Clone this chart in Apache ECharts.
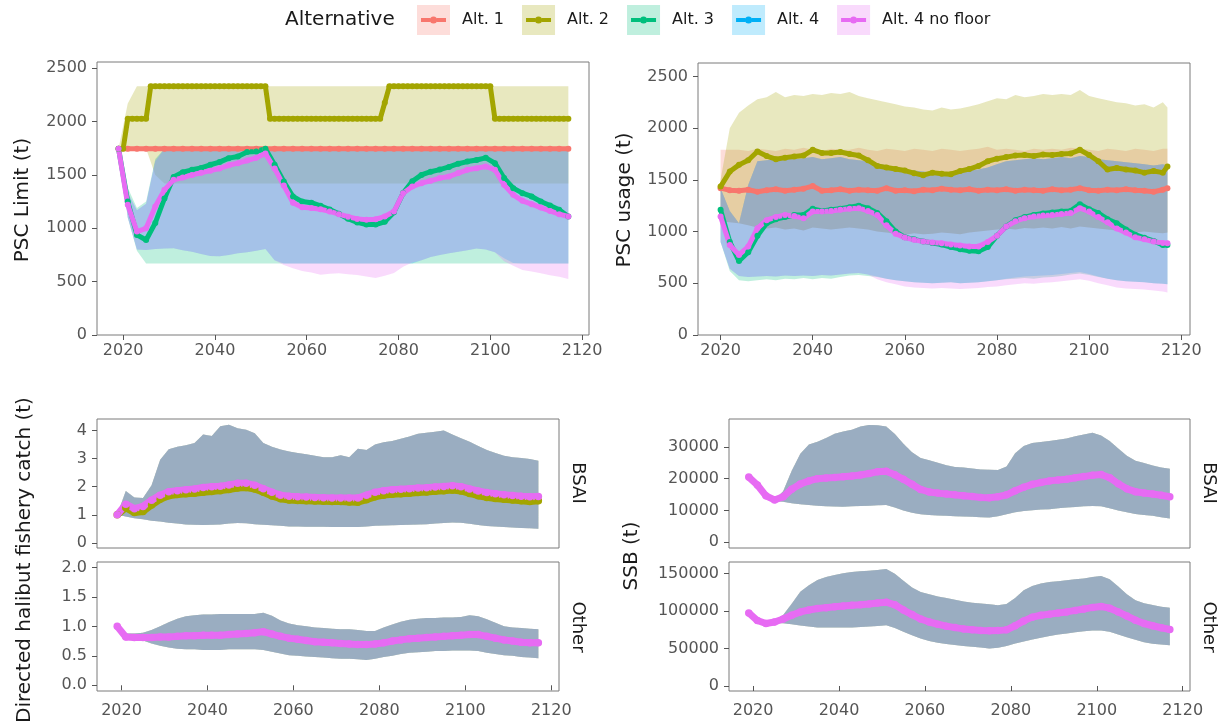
<!DOCTYPE html>
<html lang="en">
  <head>
    <meta charset="UTF-8" />
    <title>PSC alternatives</title>
    <script src="https://cdn.jsdelivr.net/npm/echarts@6/dist/echarts.min.js"></script>
    <style>
      html, body { margin: 0; padding: 0; background: #fff; }
      #main { width: 1220px; height: 727px; }
    </style>
  </head>
  <body>
    <div id="main"></div>
    <script type="text/javascript">
      // alternatives and colours (ggplot hue palette)
      const alts = ["Alt. 1", "Alt. 2", "Alt. 3", "Alt. 4", "Alt. 4 no floor"];
      const colors = ["#F8766D", "#A3A500", "#00BF7D", "#00B0F6", "#E76BF3"];
      const xTicks = [2020, 2040, 2060, 2080, 2100, 2120];
      const yTicksPsc = [0, 500, 1000, 1500, 2000, 2500];
      const yTicksCatchBsai = [0, 1, 2, 3, 4];
      const yTicksCatchOther = [0, 0.5, 1, 1.5, 2];
      const yTicksSsbBsai = [0, 10000, 20000, 30000];
      const yTicksSsbOther = [0, 50000, 100000, 150000];

      // x values
      const yearsOdd = [];
      for (let y = 2019; y <= 2117; y += 2) yearsOdd.push(y);
      const yearsAll = [];
      for (let y = 2019; y <= 2117; y++) yearsAll.push(y);
      const yearsUsage = [];
      for (let y = 2020; y <= 2116; y += 2) yearsUsage.push(y);
      yearsUsage.push(2117);

      // ---- PSC limit (odd years, Alt. 2 yearly) ----
      const limAlt1 = [
        1745, 1745, 1745, 1745, 1745, 1745, 1745, 1745, 1745, 1745,
        1745, 1745, 1745, 1745, 1745, 1745, 1745, 1745, 1745, 1745,
        1745, 1745, 1745, 1745, 1745, 1745, 1745, 1745, 1745, 1745,
        1745, 1745, 1745, 1745, 1745, 1745, 1745, 1745, 1745, 1745,
        1745, 1745, 1745, 1745, 1745, 1745, 1745, 1745, 1745, 1745
      ];
      const limAlt2 = [
        1745, 1745, 2026, 2026, 2026, 2026, 2026, 2330, 2330, 2330,
        2330, 2330, 2330, 2330, 2330, 2330, 2330, 2330, 2330, 2330,
        2330, 2330, 2330, 2330, 2330, 2330, 2330, 2330, 2330, 2330,
        2330, 2330, 2330, 2026, 2026, 2026, 2026, 2026, 2026, 2026,
        2026, 2026, 2026, 2026, 2026, 2026, 2026, 2026, 2026, 2026,
        2026, 2026, 2026, 2026, 2026, 2026, 2026, 2026, 2176, 2330,
        2330, 2330, 2330, 2330, 2330, 2330, 2330, 2330, 2330, 2330,
        2330, 2330, 2330, 2330, 2330, 2330, 2330, 2330, 2330, 2330,
        2330, 2330, 2026, 2026, 2026, 2026, 2026, 2026, 2026, 2026,
        2026, 2026, 2026, 2026, 2026, 2026, 2026, 2026, 2026
      ];
      const limAlt3 = [
        1745, 1250, 938, 890, 1050, 1280, 1480, 1525, 1548, 1565,
        1595, 1620, 1657, 1673, 1714, 1720, 1745, 1595, 1438, 1298,
        1250, 1240, 1210, 1175, 1135, 1090, 1055, 1035, 1035, 1060,
        1150, 1330, 1440, 1500, 1530, 1550, 1575, 1605, 1625, 1640,
        1660, 1610, 1470, 1376, 1329, 1298, 1251, 1213, 1173, 1110
      ];
      const limAlt4nf = [
        1745, 1220, 969, 1000, 1204, 1360, 1454, 1475, 1500, 1520,
        1540, 1560, 1590, 1610, 1635, 1660, 1700, 1560, 1400, 1240,
        1198, 1190, 1178, 1158, 1132, 1108, 1088, 1080, 1085, 1110,
        1157, 1329, 1391, 1423, 1445, 1470, 1485, 1517, 1548, 1563,
        1579, 1548, 1407, 1313, 1257, 1226, 1194, 1163, 1132, 1110
      ];
      const limAlt2Lo = [
        1745, 1745, 1745, 1745, 1500, 1420, 1420, 1420, 1420, 1420,
        1420, 1420, 1420, 1420, 1420, 1420, 1420, 1420, 1420, 1420,
        1420, 1420, 1420, 1420, 1420, 1420, 1420, 1420, 1420, 1420,
        1420, 1420, 1420, 1420, 1420, 1420, 1420, 1420, 1420, 1420,
        1420, 1420, 1420, 1420, 1420, 1420, 1420, 1420, 1420, 1420
      ];
      const limAlt2Hi = [
        1745, 2170, 2330, 2330, 2330, 2330, 2330, 2330, 2330, 2330,
        2330, 2330, 2330, 2330, 2330, 2330, 2330, 2330, 2330, 2330,
        2330, 2330, 2330, 2330, 2330, 2330, 2330, 2330, 2330, 2330,
        2330, 2330, 2330, 2330, 2330, 2330, 2330, 2330, 2330, 2330,
        2330, 2330, 2330, 2330, 2330, 2330, 2330, 2330, 2330, 2330
      ];
      const limAlt3Lo = [
        1745, 1100, 790, 670, 670, 670, 670, 670, 670, 670,
        670, 670, 670, 670, 670, 670, 670, 670, 670, 670,
        670, 670, 670, 670, 670, 670, 670, 670, 670, 670,
        670, 670, 670, 670, 670, 670, 670, 670, 670, 670,
        670, 670, 670, 670, 670, 670, 670, 670, 670, 670
      ];
      const limAlt3Hi = [
        1745, 1380, 1190, 1250, 1650, 1745, 1745, 1745, 1745, 1745,
        1745, 1745, 1745, 1745, 1745, 1745, 1745, 1745, 1745, 1745,
        1745, 1745, 1745, 1745, 1745, 1745, 1745, 1745, 1745, 1745,
        1745, 1745, 1745, 1745, 1745, 1745, 1745, 1745, 1745, 1745,
        1745, 1745, 1745, 1745, 1745, 1745, 1745, 1745, 1745, 1745
      ];
      const limAlt4Hi = [
        1745, 1330, 1170, 1230, 1630, 1745, 1745, 1745, 1745, 1745,
        1745, 1745, 1745, 1745, 1745, 1745, 1745, 1745, 1745, 1745,
        1745, 1745, 1745, 1745, 1745, 1745, 1745, 1745, 1745, 1745,
        1745, 1745, 1745, 1745, 1745, 1745, 1745, 1745, 1745, 1745,
        1745, 1745, 1745, 1745, 1745, 1745, 1745, 1745, 1745, 1745
      ];
      const limAlt4Lo = [
        1745, 1100, 800, 797, 805, 810, 813, 795, 780, 760,
        740, 738, 750, 765, 775, 790, 805, 700, 670, 670,
        670, 670, 670, 670, 670, 670, 670, 670, 670, 670,
        670, 670, 670, 700, 730, 750, 765, 780, 795, 810,
        800, 775, 720, 675, 670, 670, 670, 670, 670, 670
      ];
      const limAlt4nfLo = [
        1745, 1100, 800, 797, 805, 810, 813, 795, 780, 760,
        740, 738, 750, 765, 775, 790, 805, 700, 655, 625,
        600, 585, 565, 575, 578, 570, 563, 548, 535, 555,
        580, 640, 680, 700, 730, 750, 765, 780, 795, 810,
        800, 775, 690, 650, 610, 595, 578, 560, 545, 525
      ];

      // ---- PSC usage (even years 2020-2116, then 2117) ----
      const useAlt1 = [
        1420, 1400, 1395, 1405, 1385, 1400, 1410, 1395, 1405, 1415,
        1440, 1395, 1400, 1410, 1395, 1405, 1400, 1395, 1420, 1395,
        1400, 1390, 1405, 1400, 1415, 1405, 1400, 1410, 1395, 1405,
        1400, 1410, 1395, 1405, 1400, 1395, 1410, 1400, 1405, 1420,
        1400, 1395, 1405, 1400, 1410, 1400, 1395, 1385, 1405, 1420
      ];
      const useAlt2 = [
        1435, 1580, 1645, 1690, 1774, 1730, 1700, 1715, 1725, 1735,
        1790, 1760, 1760, 1770, 1750, 1735, 1690, 1635, 1620, 1605,
        1590, 1565, 1545, 1570, 1560, 1555, 1585, 1605, 1635, 1680,
        1705, 1720, 1735, 1740, 1730, 1745, 1740, 1750, 1755, 1790,
        1740, 1680, 1600, 1615, 1600, 1590, 1570, 1585, 1570, 1630
      ];
      const useAlt3 = [
        1210, 900, 715, 800, 960, 1080, 1120, 1140, 1160, 1160,
        1220, 1200, 1210, 1220, 1235, 1250, 1225, 1180, 1100, 1000,
        945, 925, 905, 890, 875, 850, 830, 815, 810, 850,
        960, 1050, 1110, 1140, 1160, 1175, 1185, 1195, 1200, 1265,
        1215, 1180, 1120, 1080, 1020, 970, 940, 910, 870, 870
      ];
      const useAlt4nf = [
        1145, 870, 774, 855, 1032, 1110, 1140, 1160, 1150, 1130,
        1194, 1195, 1200, 1210, 1220, 1226, 1200, 1161, 1060, 980,
        942, 920, 903, 895, 887, 875, 865, 855, 855, 900,
        960, 1048, 1100, 1130, 1145, 1155, 1161, 1170, 1180, 1226,
        1194, 1140, 1090, 1030, 990, 945, 925, 903, 890, 887
      ];
      const useAlt1Hi = [
        1790, 1790, 1790, 1780, 1800, 1790, 1780, 1800, 1790, 1810,
        1790, 1780, 1800, 1790, 1790, 1810, 1790, 1780, 1800, 1790,
        1780, 1800, 1790, 1780, 1800, 1790, 1780, 1790, 1800, 1820,
        1790, 1800, 1790, 1780, 1800, 1790, 1800, 1790, 1810, 1800,
        1790, 1780, 1800, 1790, 1780, 1800, 1790, 1780, 1800, 1800
      ];
      const useAlt1Lo = [
        1100, 1090, 1080, 1060, 1040, 1030, 1040, 1020, 1030, 1010,
        1040, 1030, 1020, 1030, 1040, 1030, 1020, 1000, 990, 980,
        970, 985, 975, 980, 990, 985, 975, 990, 1000, 1010,
        1020, 1030, 1020, 1035, 1030, 1040, 1030, 1045, 1030, 1050,
        1040, 1030, 1020, 1010, 1000, 990, 1000, 990, 985, 990
      ];
      const useAlt2Hi = [
        1500, 2000, 2150, 2220, 2280, 2300, 2350, 2300, 2320, 2310,
        2330, 2320, 2340, 2330, 2350, 2310, 2290, 2270, 2250, 2230,
        2210, 2200, 2180, 2170, 2200, 2180, 2190, 2210, 2230, 2260,
        2290, 2280, 2320, 2300, 2310, 2330, 2320, 2330, 2320, 2370,
        2310, 2290, 2270, 2250, 2240, 2220, 2230, 2200, 2250, 2200
      ];
      const useAlt3Hi = [
        1420, 1200, 1080, 1450, 1680, 1690, 1700, 1710, 1700, 1710,
        1720, 1700, 1710, 1720, 1700, 1690, 1680, 1660, 1640, 1620,
        1600, 1590, 1580, 1570, 1560, 1570, 1580, 1590, 1600, 1620,
        1650, 1680, 1690, 1700, 1710, 1700, 1710, 1720, 1710, 1730,
        1720, 1700, 1690, 1680, 1670, 1660, 1650, 1640, 1650, 1640
      ];
      const useAlt3Lo = [
        900, 620, 530, 520, 530, 540, 530, 545, 540, 550,
        540, 550, 545, 560, 575, 580, 570, 560, 545, 530,
        520, 510, 505, 500, 505, 510, 500, 505, 510, 520,
        530, 540, 545, 550, 545, 555, 560, 570, 585, 595,
        580, 560, 545, 530, 520, 515, 510, 500, 495, 490
      ];
      const useAlt4Lo = [
        900, 640, 570, 560, 565, 570, 565, 575, 570, 575,
        570, 580, 575, 585, 595, 600, 585, 565, 545, 530,
        520, 510, 505, 500, 505, 510, 500, 505, 510, 520,
        530, 545, 555, 565, 570, 575, 580, 590, 600, 610,
        590, 565, 545, 530, 520, 515, 510, 500, 495, 490
      ];
      const useAlt4nfLo = [
        900, 640, 570, 560, 565, 570, 565, 575, 570, 575,
        570, 580, 575, 585, 595, 600, 585, 540, 510, 490,
        470, 460, 455, 450, 455, 450, 445, 450, 455, 465,
        470, 480, 490, 500, 495, 505, 510, 520, 530, 540,
        525, 500, 480, 460, 450, 445, 440, 430, 420, 410
      ];

      // ---- directed halibut fishery catch (odd years) ----
      const catchBsaiMid = [
        1.0, 1.38, 1.22, 1.3, 1.52, 1.7, 1.82, 1.86, 1.89, 1.92,
        1.97, 2.0, 2.02, 2.06, 2.12, 2.12, 2.05, 1.93, 1.8, 1.7,
        1.66, 1.64, 1.63, 1.62, 1.61, 1.6, 1.6, 1.6, 1.6, 1.7,
        1.8, 1.86, 1.89, 1.91, 1.93, 1.95, 1.96, 1.99, 2.01, 2.03,
        2.0, 1.92, 1.85, 1.79, 1.75, 1.71, 1.69, 1.66, 1.64, 1.65
      ];
      const catchBsaiAlt2 = [
        1.0, 1.25, 1.08, 1.12, 1.35, 1.55, 1.68, 1.72, 1.75, 1.77,
        1.8, 1.83, 1.86, 1.9, 1.95, 1.97, 1.92, 1.8, 1.67, 1.57,
        1.53, 1.51, 1.5, 1.49, 1.48, 1.47, 1.47, 1.46, 1.45, 1.54,
        1.64, 1.7, 1.73, 1.75, 1.77, 1.79, 1.81, 1.84, 1.86, 1.88,
        1.85, 1.76, 1.68, 1.62, 1.58, 1.55, 1.53, 1.5, 1.47, 1.5
      ];
      const catchBsaiHi = [
        1.0, 1.85, 1.62, 1.6, 2.05, 2.96, 3.33, 3.42, 3.47, 3.55,
        3.85, 3.8, 4.15, 4.2, 4.08, 4.02, 3.9, 3.55, 3.42, 3.32,
        3.25, 3.2, 3.15, 3.1, 3.05, 3.05, 3.12, 3.05, 3.35, 3.3,
        3.5, 3.58, 3.62, 3.7, 3.78, 3.88, 3.92, 3.95, 4.0, 3.85,
        3.72, 3.6, 3.45, 3.3, 3.2, 3.1, 3.05, 3.02, 2.98, 2.92
      ];
      const catchBsaiLo = [
        1.0, 0.94, 0.88, 0.84, 0.79, 0.76, 0.72, 0.69, 0.66, 0.65,
        0.64, 0.65, 0.66, 0.69, 0.71, 0.7, 0.67, 0.65, 0.63, 0.61,
        0.59, 0.59, 0.58, 0.58, 0.58, 0.57, 0.57, 0.57, 0.57, 0.59,
        0.61, 0.62, 0.63, 0.64, 0.65, 0.66, 0.67, 0.69, 0.71, 0.73,
        0.72, 0.68, 0.64, 0.6, 0.59, 0.57, 0.55, 0.53, 0.52, 0.51
      ];
      const catchOtherMid = [
        1.0, 0.82, 0.81, 0.81, 0.81, 0.82, 0.82, 0.83, 0.84, 0.84,
        0.85, 0.85, 0.85, 0.86, 0.87, 0.88, 0.89, 0.91, 0.87, 0.83,
        0.8, 0.78, 0.76, 0.74, 0.73, 0.72, 0.71, 0.7, 0.69, 0.69,
        0.7, 0.72, 0.75, 0.77, 0.79, 0.8, 0.81, 0.82, 0.83, 0.84,
        0.85, 0.86, 0.86, 0.83, 0.8, 0.77, 0.75, 0.73, 0.72, 0.72
      ];
      const catchOtherHi = [
        1.0, 0.88, 0.88, 0.89, 0.94, 1.0, 1.07, 1.13, 1.17, 1.19,
        1.2, 1.2, 1.21, 1.21, 1.21, 1.21, 1.21, 1.23, 1.18, 1.1,
        1.05, 1.02, 1.0, 0.98, 0.97, 0.96, 0.95, 0.95, 0.94, 0.92,
        0.92, 0.98, 1.03, 1.08, 1.11, 1.13, 1.14, 1.14, 1.15, 1.15,
        1.16, 1.19, 1.17, 1.12, 1.06, 1.0, 0.98, 0.97, 0.96, 0.95
      ];
      const catchOtherLo = [
        1.0, 0.82, 0.79, 0.76, 0.71, 0.67, 0.64, 0.62, 0.61, 0.61,
        0.6, 0.6, 0.6, 0.61, 0.61, 0.61, 0.61, 0.6, 0.57, 0.54,
        0.51, 0.5, 0.49, 0.48, 0.47, 0.46, 0.45, 0.45, 0.44, 0.43,
        0.45, 0.48, 0.5, 0.53, 0.55, 0.56, 0.57, 0.58, 0.58, 0.59,
        0.59, 0.59, 0.58, 0.55, 0.53, 0.51, 0.5, 0.48, 0.47, 0.46
      ];

      // ---- SSB (odd years) ----
      const ssbBsaiMid = [
        20500, 18000, 14600, 13300, 14300, 16700, 18300, 19300, 20000, 20200,
        20350, 20600, 20850, 21150, 21600, 22200, 22300, 21200, 19800, 18200,
        16600, 15800, 15450, 15200, 14900, 14650, 14400, 14100, 14000, 14300,
        14900, 16200, 17300, 18200, 18800, 19300, 19550, 19800, 20300, 20650,
        21100, 21300, 20300, 18400, 16800, 15900, 15500, 15200, 14800, 14300
      ];
      const ssbBsaiHi = [
        20500, 18000, 14600, 13300, 16000, 22500, 27800, 30700, 31600, 32800,
        34100, 34800, 35400, 36400, 36900, 36800, 36400, 34000, 31000, 28300,
        26500, 25800, 25000, 24200, 23700, 23500, 23200, 22900, 22800, 22700,
        23800, 28000, 30300, 31200, 31500, 31800, 32200, 32600, 33300, 33900,
        34400, 33600, 31800, 29500, 27200, 25600, 24900, 24100, 23500, 23100
      ];
      const ssbBsaiLo = [
        20500, 18000, 14600, 13000, 12700, 12300, 11950, 11700, 11500, 11350,
        11250, 11200, 11300, 11400, 11500, 11600, 11750, 10900, 10000, 9300,
        8800, 8600, 8400, 8300, 8200, 8100, 8000, 7900, 7800, 8200,
        8800, 9400, 9800, 10100, 10300, 10400, 10700, 10900, 11100, 11300,
        11400, 11300, 10700, 10000, 9400, 8900, 8600, 8300, 7900, 7500
      ];
      const ssbOtherMid = [
        97600, 87500, 83500, 85500, 89500, 94500, 99000, 101500, 103500, 104700,
        105800, 107000, 108000, 108700, 109500, 110800, 112000, 108500, 101500, 95500,
        89500, 85500, 82500, 80000, 78000, 76300, 75200, 74300, 73700, 74000,
        75000, 80500, 87000, 92000, 94500, 96000, 97500, 99000, 101000, 102800,
        105000, 106300, 104000, 99000, 93500, 88000, 83500, 80500, 77800, 75500
      ];
      const ssbOtherHi = [
        97600, 87500, 83500, 86000, 95000, 110000, 126000, 134500, 141500, 145500,
        148200, 150500, 152500, 153200, 154000, 155000, 156500, 150000, 140500, 131500,
        125500, 122500, 119500, 117500, 115200, 112800, 111300, 110300, 109200, 108000,
        109500, 117500, 128000, 133500, 136800, 138900, 140000, 141200, 142500, 143600,
        145500, 147000, 142500, 133000, 122500, 114500, 110500, 108200, 106000, 104700
      ];
      const ssbOtherLo = [
        97600, 87500, 83500, 84500, 84000, 82500, 81000, 79500, 78200, 78000,
        78000, 78100, 78200, 78800, 79500, 80300, 81200, 77500, 72500, 67800,
        63300, 60000, 57800, 56000, 54800, 53600, 52500, 51300, 50200, 51000,
        53500, 56800, 59500, 62000, 64500, 66800, 68800, 70200, 71800, 73200,
        74300, 74300, 72500, 68800, 65000, 61700, 58500, 56600, 55500, 54600
      ];

      // ---- layout ----
      // [left, top, width, height, xmin, xmax, ymin, ymax]
      const panels = [
        [97, 62, 492, 273, 2014.3, 2121.5, 0, 2558],
        [698, 63, 492, 272, 2015.1, 2121.9, 0, 2630],
        [97, 419, 462, 129, 2014.3, 2121.8, -0.178, 4.405],
        [97, 562, 462, 129, 2014.3, 2121.8, -0.097, 2.092],
        [729, 419, 461, 129, 2014.4, 2121.7, -1800, 38750],
        [729, 562, 461, 129, 2014.4, 2121.7, -6700, 165700]
      ];
      const yTicks = [yTicksPsc, yTicksPsc, yTicksCatchBsai, yTicksCatchOther, yTicksSsbBsai, yTicksSsbOther];
      const showX = [true, true, false, true, false, true];
      const xMargin = [8, 8, 12, 12, 12, 12];
      const FONT = "DejaVu Sans";

      function pairs(xs, ys) {
        return xs.map((x, i) => [x, ys[i]]);
      }

      // under: the line sits exactly beneath the "no floor" line, so draw it slimmer
      function line(k, gi, xs, ys, bottom, under) {
        const w = bottom ? 7 : 5;
        const s = bottom ? 7.5 : 6;
        return {
          type: "line",
          name: alts[k],
          xAxisIndex: gi,
          yAxisIndex: gi,
          data: pairs(xs, ys),
          symbol: "circle",
          symbolSize: under ? s - 3 : s,
          lineStyle: { width: under ? w - 3 : w, color: colors[k] },
          itemStyle: { color: colors[k], borderWidth: 0 },
          z: 3,
          silent: true
        };
      }

      // shaded band between lo and hi, drawn as one polygon through the axes
      function ribbon(k, gi, xs, lo, hi) {
        const data = xs.map((x, i) => [x, lo[i], hi[i]]);
        return {
          type: "custom",
          xAxisIndex: gi,
          yAxisIndex: gi,
          data: data,
          encode: { x: 0, y: [1, 2] },
          z: 1,
          silent: true,
          renderItem: function (params, api) {
            if (params.dataIndex !== 0) return null;
            const upper = data.map((d) => api.coord([d[0], d[2]]));
            const lower = data.map((d) => api.coord([d[0], d[1]])).reverse();
            return {
              type: "polygon",
              shape: { points: upper.concat(lower) },
              style: { fill: colors[k], opacity: 0.25, stroke: null }
            };
          }
        };
      }

      const series = [];
      // PSC limit
      series.push(ribbon(1, 0, yearsOdd, limAlt2Lo, limAlt2Hi));
      series.push(ribbon(2, 0, yearsOdd, limAlt3Lo, limAlt3Hi));
      series.push(ribbon(3, 0, yearsOdd, limAlt4Lo, limAlt4Hi));
      series.push(ribbon(4, 0, yearsOdd, limAlt4nfLo, limAlt4Hi));
      series.push(line(0, 0, yearsOdd, limAlt1));
      series.push(line(1, 0, yearsAll, limAlt2));
      series.push(line(2, 0, yearsOdd, limAlt3));
      series.push(line(3, 0, yearsOdd, limAlt4nf, false, true));
      series.push(line(4, 0, yearsOdd, limAlt4nf));
      // PSC usage
      series.push(ribbon(0, 1, yearsUsage, useAlt1Lo, useAlt1Hi));
      series.push(ribbon(1, 1, yearsUsage, useAlt1Lo, useAlt2Hi));
      series.push(ribbon(2, 1, yearsUsage, useAlt3Lo, useAlt3Hi));
      series.push(ribbon(3, 1, yearsUsage, useAlt4Lo, useAlt3Hi));
      series.push(ribbon(4, 1, yearsUsage, useAlt4nfLo, useAlt3Hi));
      series.push(line(0, 1, yearsUsage, useAlt1));
      series.push(line(1, 1, yearsUsage, useAlt2));
      series.push(line(2, 1, yearsUsage, useAlt3));
      series.push(line(3, 1, yearsUsage, useAlt4nf, false, true));
      series.push(line(4, 1, yearsUsage, useAlt4nf));
      // facet panels
      const facets = [
        [2, catchBsaiLo, catchBsaiHi, catchBsaiMid, catchBsaiAlt2],
        [3, catchOtherLo, catchOtherHi, catchOtherMid, null],
        [4, ssbBsaiLo, ssbBsaiHi, ssbBsaiMid, null],
        [5, ssbOtherLo, ssbOtherHi, ssbOtherMid, null]
      ];
      facets.forEach(([gi, lo, hi, mid, alt2]) => {
        for (let k = 0; k < 5; k++) series.push(ribbon(k, gi, yearsOdd, lo, hi));
        for (let k = 0; k < 5; k++) {
          const own = k === 1 && alt2;
          series.push(line(k, gi, yearsOdd, own ? alt2 : mid, true, k < 4 && !own));
        }
      });

      const grid = panels.map((p) => ({
        left: p[0], top: p[1], width: p[2], height: p[3],
        show: true, borderColor: "#7a7a7a", borderWidth: 1
      }));

      const xAxis = panels.map((p, gi) => ({
        type: "value", gridIndex: gi, min: p[4], max: p[5],
        axisLine: { show: false }, splitLine: { show: false },
        axisTick: { show: showX[gi], length: 5, customValues: xTicks, lineStyle: { color: "#555" } },
        axisLabel: {
          show: showX[gi], customValues: xTicks, margin: xMargin[gi],
          color: "#555", fontSize: 16, fontFamily: FONT,
          formatter: (v) => String(v)
        }
      }));

      const yAxis = panels.map((p, gi) => ({
        type: "value", gridIndex: gi, min: p[6], max: p[7],
        axisLine: { show: false }, splitLine: { show: false },
        axisTick: { show: true, length: 5, customValues: yTicks[gi], lineStyle: { color: "#555" } },
        axisLabel: {
          customValues: yTicks[gi], margin: 10,
          color: "#555", fontSize: 16, fontFamily: FONT,
          formatter: gi === 3 ? (v) => v.toFixed(1) : (v) => String(v)
        }
      }));

      // legend key: line with a dot, inside a 33x30 box (corner specks fix the box)
      const keyPath = "path://M0,0h0.05v0.05h-0.05z M32.95,29.95h0.05v0.05h-0.05z " +
        "M4,13h9.2v4h-9.2z M19.8,13h9.2v4h-9.2z M13,15a3.5,3.5 0 1,1 7,0a3.5,3.5 0 1,1 -7,0z";
      const legendBase = {
        orient: "horizontal", left: 417, top: 5, padding: 0,
        itemWidth: 33, itemHeight: 30, itemGap: 18,
        symbolKeepAspect: false, selectedMode: false,
        itemStyle: { borderWidth: 0 },
        textStyle: { fontSize: 16, fontFamily: FONT, color: "#1a1a1a", padding: [0, 0, 0, 7] }
      };
      const legend = [
        Object.assign({}, legendBase, {
          data: alts.map((n, k) => ({ name: n, icon: "rect", itemStyle: { color: colors[k], opacity: 0.25 } }))
        }),
        Object.assign({}, legendBase, {
          textStyle: Object.assign({}, legendBase.textStyle, { color: "rgba(0,0,0,0)" }),
          data: alts.map((n, k) => ({ name: n, icon: keyPath, itemStyle: { color: colors[k] } }))
        })
      ];

      function label(text, x, y, rot, size) {
        return {
          type: "text", x: x, y: y, rotation: rot, silent: true,
          style: {
            text: text, fill: "#1a1a1a", fontSize: size, fontFamily: FONT,
            align: "center", verticalAlign: "middle",
            textAlign: "center", textVerticalAlign: "middle"
          }
        };
      }
      const graphic = [
        {
          type: "text", x: 285, y: 20, silent: true,
          style: { text: "Alternative", fill: "#1a1a1a", fontSize: 20, fontFamily: FONT,
            align: "left", verticalAlign: "middle", textAlign: "left", textVerticalAlign: "middle" }
        },
        label("PSC Limit (t)", 23, 200, Math.PI / 2, 20),
        label("PSC usage (t)", 625, 200, Math.PI / 2, 20),
        label("Directed halibut fishery catch (t)", 25, 560, Math.PI / 2, 20),
        label("SSB (t)", 632, 556, Math.PI / 2, 20),
        label("BSAI", 578, 483, -Math.PI / 2, 18),
        label("Other", 578, 627, -Math.PI / 2, 18),
        label("BSAI", 1209, 483, -Math.PI / 2, 18),
        label("Other", 1209, 627, -Math.PI / 2, 18)
      ];

      const myChart = echarts.init(document.getElementById("main"));
      myChart.setOption({
        animation: false,
        backgroundColor: "#fff",
        textStyle: { fontFamily: FONT },
        legend: legend,
        graphic: graphic,
        grid: grid,
        xAxis: xAxis,
        yAxis: yAxis,
        series: series
      });
    </script>
  </body>
</html>
